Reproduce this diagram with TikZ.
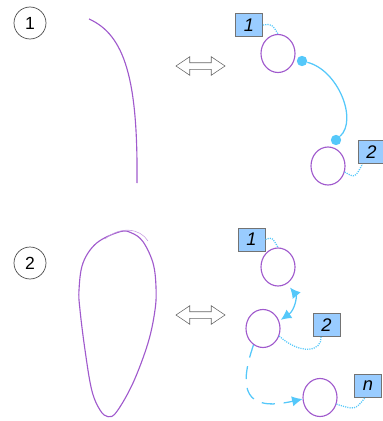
\documentclass[tikz,border=0pt]{standalone}
\usepackage{fontspec}
\setmainfont{Liberation Sans}
\usetikzlibrary{shapes.geometric,shapes.arrows,arrows.meta}
\definecolor{purp}{RGB}{160,90,205}
\definecolor{sky}{RGB}{85,200,250}
\definecolor{boxblue}{RGB}{153,204,255}
\tikzset{
	>={Latex[length=2.6mm,width=2.6mm]},
	obj/.style={ellipse, draw=purp, line width=0.8pt, minimum width=8.5mm, minimum height=9.5mm, inner sep=0pt},
	tag/.style={draw=black!55, line width=0.7pt, fill=boxblue, minimum width=6.75mm, minimum height=5.75mm, inner sep=0pt, font=\fontsize{13}{15}\selectfont\itshape},
	num/.style={circle, draw=black!70, line width=0.5pt, minimum size=8mm, inner sep=0pt, font=\fontsize{12.5}{14}\selectfont},
	pin/.style={circle, fill=sky, minimum size=2.6mm, inner sep=0pt},
	link/.style={sky, line width=0.9pt, dash pattern=on 0.8pt off 0.8pt},
	flow/.style={sky, line width=0.9pt, ->},
	swap/.style={double arrow, draw=black!60, fill=white, line width=0.4pt, inner sep=0.75mm, minimum height=12.25mm, double arrow head extend=1.5mm, double arrow tip angle=68},
}

\begin{document}
\begin{tikzpicture}[x=0.25mm, y=-0.25mm]
			%%%%% START %%%%%
			\useasboundingbox (0, 0) rectangle (383, 421);
			
			% case 1
			\node[num] (n1) at (30, 23) {1};
			\draw[purp, line width=0.8pt] (89, 19) .. controls (125, 35) and (138, 80) .. (137, 183);
			\node[swap] (s1) at (200.5, 66) {};
			
			\node[obj] (a1) at (278, 53.5) {};
			\node[obj] (a2) at (328, 166) {};
			\node[tag] (t1) at (249, 25) {1};
			\node[tag] (t2) at (371.5, 152) {2};
			\node[pin] (p1) at (302, 61) {};
			\node[pin] (p2) at (336, 140) {};
			
			\draw[link] (t1.east) .. controls (272, 24) .. (a1.north);
			\draw[sky, line width=0.9pt] (p1) .. controls (338, 70) and (358, 120) .. (p2);
			\draw[link] (a2.-20) .. controls (355, 178) .. (t2.233);
			
			% case 2
			\node[num] (n2) at (30, 263) {2};
			\draw[purp, line width=0.8pt] plot[smooth cycle, tension=0.6] coordinates {
				(120, 231.7) (96.7, 243) (83, 263) (79, 290) (80, 310) (85, 350) (91.7, 390)
				(100, 410) (108, 416.7) (116.7, 411.7) (133, 383) (148, 343) (155, 310)
				(156, 287) (153, 263) (143, 241.7) (131.7, 233)};
			\draw[purp!60, line width=0.4pt] (105, 239) .. controls (120, 226) and (140, 228) .. (148, 241);
			\node[swap] (s2) at (200.5, 315) {};
			
			\node[obj] (e1) at (278, 267) {};
			\node[obj] (e2) at (263, 328.5) {};
			\node[obj] (e3) at (320, 397.5) {};
			\node[tag] (u1) at (251.5, 239.5) {1};
			\node[tag] (u2) at (326.5, 325) {2};
			\node[tag] (u3) at (368, 386) {n};
			
			\draw[link] (u1.east) .. controls (272, 237) .. (e1.north);
			\draw[sky, line width=0.9pt, <->, shorten <=1.2mm, shorten >=0.5mm] (e1.-62) .. controls (297, 296) and (295, 310) .. (e2.25);
			\draw[link] (e2.-25) .. controls (300, 355) and (322, 352) .. (u2.245);
			\draw[flow, dash pattern=on 3.3mm off 2.2mm] (e2.240) .. controls (238, 390) and (245, 412) .. (e3.185);
			\draw[link] (e3.-22) .. controls (355, 410) .. (u3.255);
			%%%%% END %%%%%
\end{tikzpicture}
\end{document}
